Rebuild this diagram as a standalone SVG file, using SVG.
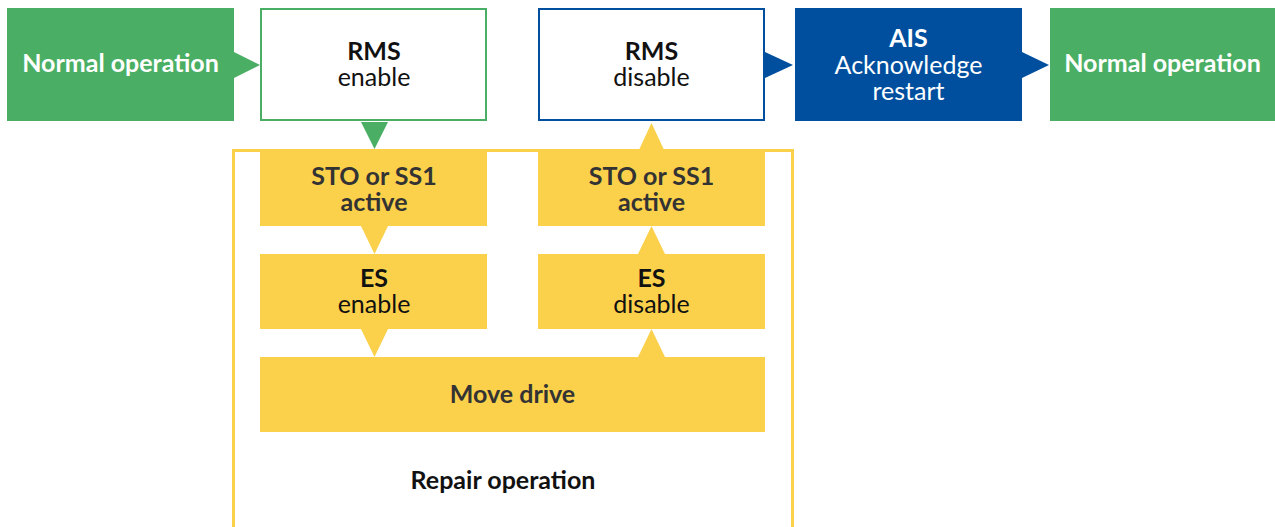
<svg xmlns="http://www.w3.org/2000/svg" width="1275" height="527" viewBox="0 0 1275 527">
<style>
text{font-family:Lato,"Liberation Sans",sans-serif;text-anchor:middle;font-size:25px}
.b{font-weight:bold}
.w{fill:#ffffff}
.k{fill:#111111}
.d{fill:#333333}
.green{fill:#4aaf65}
.blue{fill:#004f9f}
.yel{fill:#fbd04b}
</style>
<rect width="1275" height="527" fill="#ffffff"/>
<g id="repair-frame">
<rect x="233.5" y="150.5" width="559" height="400" fill="none" stroke="#fbd04b" stroke-width="3"/>
<text x="503" y="489" class="b k">Repair operation</text>
</g>
<g id="connectors">
<polygon class="green" points="234,52 260,65 234,78"/>
<polygon class="blue" points="765,52 793,65 765,78"/>
<polygon class="blue" points="1022,52 1049,65 1022,78"/>
<polygon class="green" points="361,122 388,122 374.5,149"/>
<polygon class="yel" points="361,226 388,226 374.5,254"/>
<polygon class="yel" points="361,329 388,329 374.5,357"/>
<polygon class="yel" points="638,357 665,357 651.5,329"/>
<polygon class="yel" points="638,254 665,254 651.5,226"/>
<polygon class="yel" points="638,152 665,152 651.5,123"/>
</g>
<g id="normal-left">
<rect x="7" y="8" width="227" height="113" class="green"/>
<text x="120.5" y="72" class="b w">Normal operation</text>
</g>
<g id="rms-enable">
<rect x="261" y="9" width="225" height="111" fill="#ffffff" stroke="#4aaf65" stroke-width="2"/>
<text x="374" y="60" class="b k">RMS</text>
<text x="374" y="86" class="k">enable</text>
</g>
<g id="rms-disable">
<rect x="539" y="9" width="225" height="111" fill="#ffffff" stroke="#004f9f" stroke-width="2"/>
<text x="651.5" y="60" class="b k">RMS</text>
<text x="651.5" y="86" class="k">disable</text>
</g>
<g id="ais">
<rect x="795" y="8" width="227" height="113" class="blue"/>
<text x="908.5" y="47" class="b w">AIS</text>
<text x="908.5" y="74" class="w">Acknowledge</text>
<text x="908.5" y="100" class="w">restart</text>
</g>
<g id="normal-right">
<rect x="1050" y="8" width="225" height="113" class="green"/>
<text x="1162.5" y="72" class="b w">Normal operation</text>
</g>
<g id="sto-left">
<rect x="260" y="152" width="227" height="74" class="yel"/>
<text x="374" y="185" class="b d">STO or SS1</text>
<text x="374" y="211" class="b d">active</text>
</g>
<g id="es-enable">
<rect x="260" y="254" width="227" height="75" class="yel"/>
<text x="374" y="287" class="b k">ES</text>
<text x="374" y="313" class="k">enable</text>
</g>
<g id="sto-right">
<rect x="538" y="152" width="227" height="74" class="yel"/>
<text x="651.5" y="185" class="b d">STO or SS1</text>
<text x="651.5" y="211" class="b d">active</text>
</g>
<g id="es-disable">
<rect x="538" y="254" width="227" height="75" class="yel"/>
<text x="651.5" y="287" class="b k">ES</text>
<text x="651.5" y="313" class="k">disable</text>
</g>
<g id="move-drive">
<rect x="260" y="357" width="505" height="75" class="yel"/>
<text x="512.5" y="403" class="b d">Move drive</text>
</g>
</svg>
